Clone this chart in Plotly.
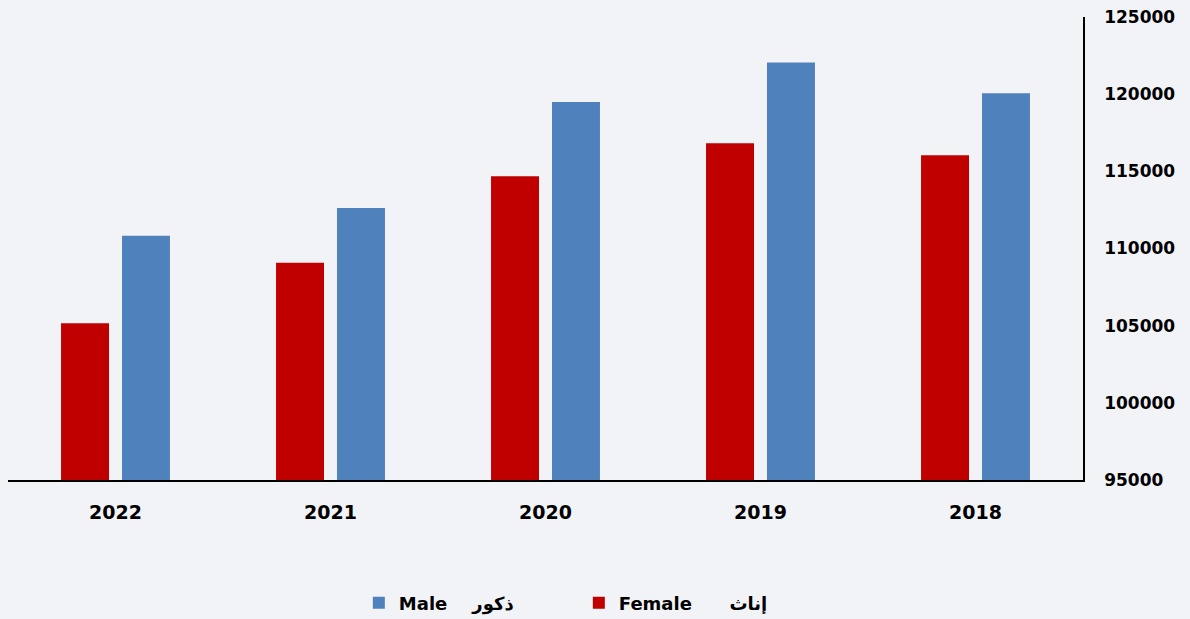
import plotly.graph_objects as go

years = ["2022", "2021", "2020", "2019", "2018"]
female = [105150, 109080, 114680, 116820, 116040]
male = [110830, 112630, 119500, 122050, 120060]
female_en, female_ar = "Female", "إناث"
male_en, male_ar = "Male", "ذكور"
y_ticks = [95000, 100000, 105000, 110000, 115000, 120000, 125000]

NB = "\u00a0"
FONT = "DejaVu Sans"

fig = go.Figure()
fig.add_trace(go.Bar(
    x=years, y=female, name=f"{female_en}{NB*6}{female_ar}",
    marker=dict(color="#C00000", line=dict(width=0)),
))
fig.add_trace(go.Bar(
    x=years, y=male, name=f"{male_en}{NB*4}{male_ar}",
    marker=dict(color="#4F81BD", line=dict(width=0)),
))

fig.update_layout(
    width=1190, height=619,
    margin=dict(l=8, r=107, t=17, b=139, autoexpand=False),
    paper_bgcolor="#f2f3f7", plot_bgcolor="#f2f3f7",
    barmode="group", bargap=0.433, bargroupgap=0.213,
    font=dict(family=FONT, color="#000000"),
    showlegend=True,
    legend=dict(
        orientation="h", traceorder="reversed",
        x=0.531, xanchor="center", y=-0.266, yanchor="middle",
        font=dict(family=FONT, size=18, color="#000000", weight="bold"),
        bgcolor="rgba(0,0,0,0)", itemwidth=30,
        entrywidth=175, entrywidthmode="pixels",
    ),
    xaxis=dict(
        type="category", showgrid=False, zeroline=False, automargin=False,
        showline=True, linecolor="#000000", linewidth=1.5,
        ticks="", ticklabelstandoff=14,
        tickfont=dict(family=FONT, size=19, color="#000000", weight="bold"),
    ),
    yaxis=dict(
        side="right", range=[95000, 125000], tickvals=y_ticks, automargin=False,
        showgrid=False, zeroline=False,
        showline=True, linecolor="#000000", linewidth=1.5,
        ticks="", ticklabelstandoff=16,
        tickfont=dict(family=FONT, size=17, color="#000000", weight="bold"),
        tickformat="d",
    ),
)

fig.write_html(
    "out.html",
    config={"displayModeBar": False},
    post_script="document.body.style.margin='0';document.body.style.background='#f2f3f7';",
)
